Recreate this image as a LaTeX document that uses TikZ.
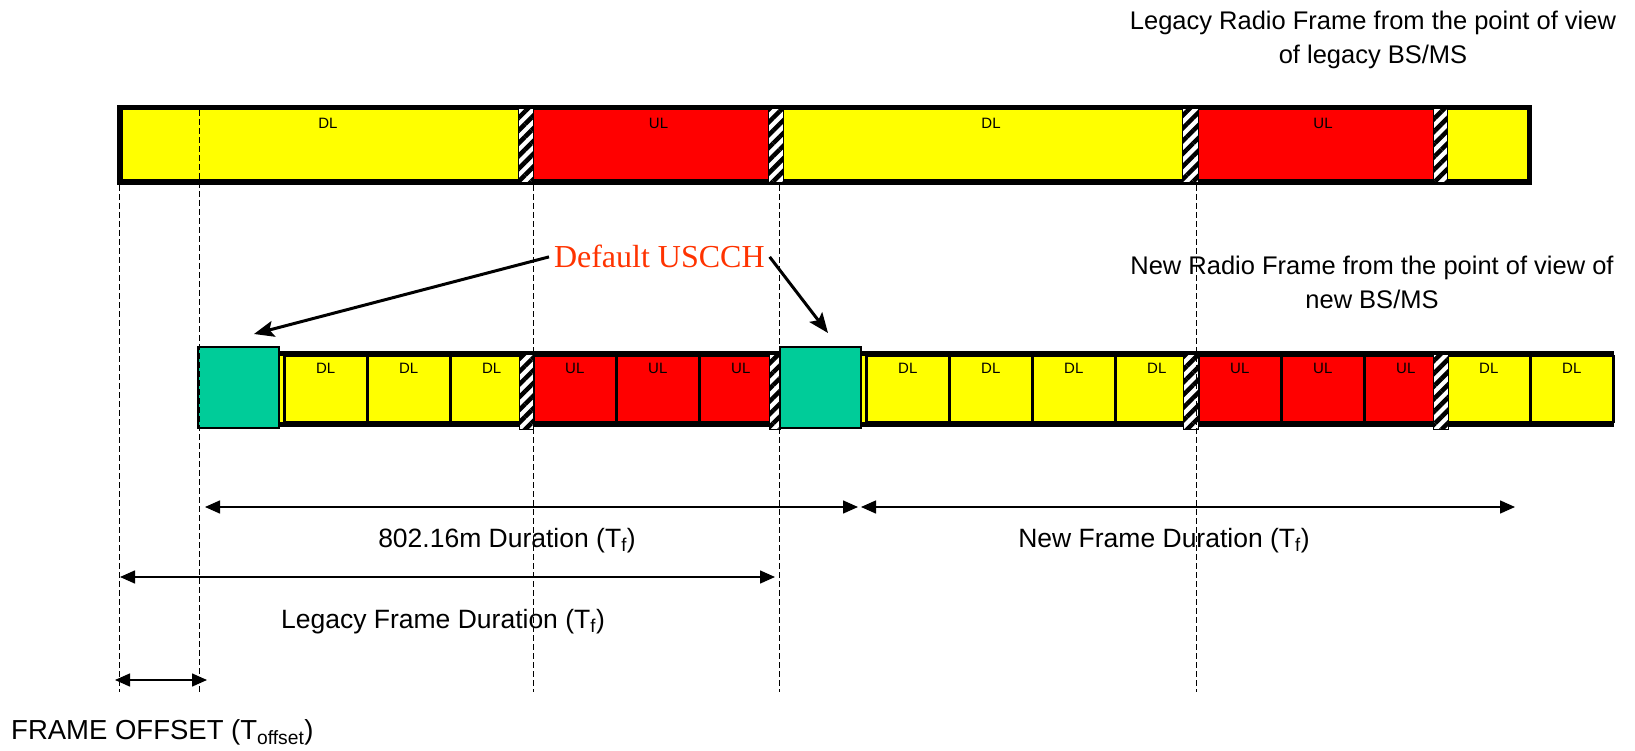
\documentclass[tikz,border=0pt]{standalone}
\usepackage{fontspec}
\setmainfont{Liberation Sans}
\newfontfamily\timesfont{Liberation Serif}
\usetikzlibrary{arrows.meta,patterns.meta}

\definecolor{dlyellow}{RGB}{255,255,0}
\definecolor{ulred}{RGB}{255,0,0}
\definecolor{uscgreen}{RGB}{0,204,153}
\definecolor{uscred}{RGB}{255,51,0}

\tikzset{
  cellfont/.style={font=\fontsize{15}{17}\selectfont},
  topseg/.style={draw=black, line width=1pt, minimum height=70pt, inner sep=0pt, anchor=west},
  cell/.style={draw=black, line width=2.5pt, minimum width=83pt, minimum height=66pt, inner sep=0pt, anchor=west},
  usc/.style={draw=black, line width=2pt, fill=uscgreen, minimum width=81pt, minimum height=81pt, inner sep=0pt},
  guard/.style={draw=black, line width=0.6pt, preaction={fill=white},
    pattern={Lines[angle=45,distance=9pt,line width=4.5pt]}},
  guide/.style={line width=1pt, dash pattern=on 6pt off 3pt},
  dimarrow/.style={{Triangle[length=15pt,width=13pt]}-{Triangle[length=15pt,width=13pt]}, line width=1.5pt},
  callout/.style={-{Stealth[length=20pt,width=16pt,inset=4pt]}, line width=3pt},
  note/.style={font=\fontsize{26.5}{34}\selectfont, align=center, inner sep=0pt},
}

\begin{document}
\begin{tikzpicture}[x=1pt, y=-1pt]
    \useasboundingbox (0,0) rectangle (1635,751);
    % legacy frame
    \fill (117,105) rectangle (1532,185);
    \foreach \x/\w/\c/\t [count=\i] in {122/411/dlyellow/DL,533/250/ulred/UL,783/415/dlyellow/DL,1198/249/ulred/UL,1447/80/dlyellow/{}}
        \node[topseg, fill=\c, minimum width=\w pt, label={[cellfont,anchor=north,yshift=-5pt]north:\t}] (t\i) at (\x,145) {};
    \foreach \x/\w in {518/15,768/15,1182/16,1433/14}
        \draw[guard] (\x,108) rectangle ++(\w,74);
    % new frame
    \fill (279,351) rectangle (1614,427);
    \fill[dlyellow] (279,356) rectangle (283,422);
    \fill[dlyellow] (861,356) rectangle (865,422);
    \foreach \t/\c [count=\i from 0] in {DL/dlyellow,DL/dlyellow,DL/dlyellow,UL/ulred,UL/ulred,UL/ulred}
        \node[cell, fill=\c, label={[cellfont,anchor=north,yshift=-5pt]north:\t}] (a\i) at (283+83*\i,389) {};
    \foreach \t/\c [count=\i from 0] in {DL/dlyellow,DL/dlyellow,DL/dlyellow,DL/dlyellow,UL/ulred,UL/ulred,UL/ulred,DL/dlyellow,DL/dlyellow}
        \node[cell, fill=\c, label={[cellfont,anchor=north,yshift=-5pt]north:\t}] (b\i) at (865+83*\i,389) {};
    \foreach \x/\w in {519/14,769/11,1183/15,1433/15}
        \draw[guard] (\x,354) rectangle ++(\w,75);
    \node[usc] (usc1) at (238.5,387.5) {};
    \node[usc] (usc2) at (820.5,387.5) {};
    % time references
    \draw[guide] (119,185) -- (119,692);
    \draw[guide] (199,110) -- (199,692);
    \foreach \x in {533,779,1196}
        \draw[guide] (\x,185) -- (\x,692);
    % headings
    \node[note, anchor=north, font=\fontsize{25.5}{34}\selectfont] (hdrLegacy) at (1373,11) {Legacy Radio Frame from the point of view\\of legacy BS/MS};
    \node[note, anchor=north, font=\fontsize{25.5}{34}\selectfont] (hdrNew) at (1372,256) {New Radio Frame from the point of view of\\new BS/MS};
    % default USCCH
    \node[font=\timesfont\fontsize{32}{32}\selectfont, text=uscred, inner sep=0pt, outer sep=5pt, anchor=base west] (uscch) at (549,268) {Default USCCH};
    \coordinate (tipA) at (254,334);
    \coordinate (tipB) at (828,333);
    \draw[callout] (uscch.west) -- (tipA);
    \draw[callout] (uscch.east) -- (tipB);
    % durations
    \coordinate (newA) at (205,507);
    \coordinate (newB) at (858,507);
    \coordinate (nxtA) at (861,507);
    \coordinate (nxtB) at (1515,507);
    \coordinate (legA) at (120,577);
    \coordinate (legB) at (775,577);
    \coordinate (offA) at (115,680);
    \coordinate (offB) at (207,680);
    \draw[dimarrow] (newA) -- (newB);
    \draw[dimarrow] (nxtA) -- (nxtB);
    \draw[dimarrow] (legA) -- (legB);
    \draw[dimarrow] (offA) -- (offB);
    \node[note, anchor=base] (durNew) at (507,547) {802.16m Duration (T\textsubscript{f})};
    \node[note, anchor=base] (durNext) at (1164,547) {New Frame Duration (T\textsubscript{f})};
    \node[note, anchor=base] (durLegacy) at (443,628) {Legacy Frame Duration (T\textsubscript{f})};
    \node[note, anchor=base west, font=\fontsize{27.5}{34}\selectfont] (offset) at (11,739) {FRAME OFFSET (T\textsubscript{offset})};
\end{tikzpicture}
\end{document}
